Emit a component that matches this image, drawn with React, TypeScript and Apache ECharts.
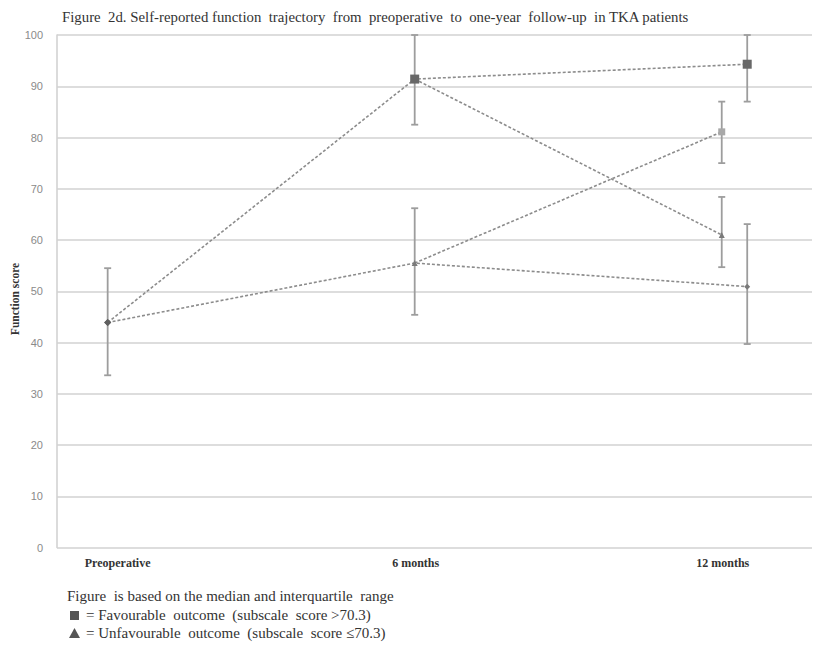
import React, { useEffect, useRef } from "react";
import * as echarts from "echarts";

// Time points on the horizontal axis
const timepoints = ["Preoperative", "6 months", "12 months"];
const timepointX = [0, 1, 2];
// Groups that keep their outcome class are drawn slightly right of the 12-month tick
const stableGroupShift = 0.083;

// Median and interquartile range of the function score
const favourableMedian = [43.9, 91.4, 94.3];
const favourableQ1 = [33.6, 82.5, 87.0];
const favourableQ3 = [54.5, 100, 100];

const unfavourableMedian = [43.9, 55.5, 50.9];
const unfavourableQ1 = [33.6, 45.4, 39.7];
const unfavourableQ3 = [54.5, 66.2, 63.1];

// 12-month values for patients whose outcome class changed after 6 months
const favToUnfavMedian = [61.0];
const favToUnfavQ1 = [54.7];
const favToUnfavQ3 = [68.4];
const unfavToFavMedian = [81.1];
const unfavToFavQ1 = [75.0];
const unfavToFavQ3 = [87.0];

const yTicks = { min: 0, max: 100, interval: 10 };
const yAxisTitle = "Function score";

const titleText =
  "Figure  2d. Self-reported function  trajectory  from  preoperative  to  one-year  follow-up  in TKA patients";
const noteLines = [
  "Figure  is based on the median and interquartile  range",
  "= Favourable  outcome  (subscale  score >70.3)",
  "= Unfavourable  outcome  (subscale  score \u226470.3)",
];

const SERIF = "'Liberation Serif', 'DejaVu Serif', serif";
const LINE_GREY = "#8c8c8c";
const BAR_GREY = "#9d9d9d";
const MARK_DARK = "#5f5f5f";

export default function App() {
  const ref = useRef<HTMLDivElement>(null);

  useEffect(() => {
    document.body.style.margin = "0";
    if (!ref.current) return;
    const chart = echarts.init(ref.current, null, { renderer: "svg" });

    const x12Shifted = timepointX[2] + stableGroupShift;

    const favPts = [
      [timepointX[0], favourableMedian[0]],
      [timepointX[1], favourableMedian[1]],
      [x12Shifted, favourableMedian[2]],
    ];
    const unfavPts = [
      [timepointX[0], unfavourableMedian[0]],
      [timepointX[1], unfavourableMedian[1]],
      [x12Shifted, unfavourableMedian[2]],
    ];
    const favToUnfavPts = [
      [timepointX[1], favourableMedian[1]],
      [timepointX[2], favToUnfavMedian[0]],
    ];
    const unfavToFavPts = [
      [timepointX[1], unfavourableMedian[1]],
      [timepointX[2], unfavToFavMedian[0]],
    ];

    // [x, q1, q3] for each whisker
    const errorBars = [
      [timepointX[0], favourableQ1[0], favourableQ3[0]],
      [timepointX[1], favourableQ1[1], favourableQ3[1]],
      [timepointX[1], unfavourableQ1[1], unfavourableQ3[1]],
      [x12Shifted, favourableQ1[2], favourableQ3[2]],
      [x12Shifted, unfavourableQ1[2], unfavourableQ3[2]],
      [timepointX[2], favToUnfavQ1[0], favToUnfavQ3[0]],
      [timepointX[2], unfavToFavQ1[0], unfavToFavQ3[0]],
    ];

    const dashed = {
      color: LINE_GREY,
      width: 1.6,
      type: [3, 2] as number[],
    };

    const lineSeries = (name: string, data: any[], z: number) => ({
      name,
      type: "line",
      data,
      z,
      lineStyle: dashed,
      showSymbol: true,
      symbolSize: 6,
      itemStyle: { color: MARK_DARK },
    });

    const sq = (pt: number[], size: number, color: string) => ({
      value: pt,
      symbol: "rect",
      symbolSize: size,
      itemStyle: { color },
    });
    const small = (pt: number[], symbol: string, size: number, color: string) => ({
      value: pt,
      symbol,
      symbolSize: size,
      itemStyle: { color },
    });

    const xLabelStyle = {
      color: "#333",
      fontFamily: SERIF,
      fontWeight: "bold",
      fontSize: 12,
    };

    chart.setOption({
      animation: false,
      backgroundColor: "#ffffff",
      grid: {
        left: 57,
        right: 5,
        top: 35,
        bottom: 97.5,
        containLabel: false,
        outerBoundsMode: "none",
      },
      xAxis: {
        type: "value",
        min: -0.165,
        max: 2.294,
        axisLine: { show: false },
        axisTick: { show: false },
        splitLine: { show: false },
        axisLabel: {
          customValues: timepointX,
          margin: 9,
          ...xLabelStyle,
          formatter: (v: number) => {
            const i = timepointX.indexOf(v);
            if (i < 0) return "";
            return i === 0 ? `{pre|${timepoints[i]}}` : `{tp|${timepoints[i]}}`;
          },
          rich: {
            pre: { padding: [0, 0, 0, 20], ...xLabelStyle },
            tp: { padding: [0, 0, 0, 2], ...xLabelStyle },
          },
        },
      },
      yAxis: {
        type: "value",
        min: yTicks.min,
        max: yTicks.max,
        interval: yTicks.interval,
        axisLine: {
          show: true,
          onZero: false,
          lineStyle: { color: "#d2d2d2", width: 1.6 },
        },
        axisTick: { show: false },
        splitLine: { lineStyle: { color: "#d2d2d2", width: 1.6 } },
        axisLabel: {
          margin: 14,
          color: "#8a8a8a",
          fontFamily: "'Liberation Sans', Arial, sans-serif",
          fontSize: 11,
        },
      },
      series: [
        {
          type: "custom",
          name: "IQR",
          z: 3,
          data: errorBars,
          renderItem: (_params: any, api: any) => {
            const x = api.value(0);
            const top = api.coord([x, api.value(2)]);
            const bot = api.coord([x, api.value(1)]);
            const cap = 3.5;
            const st = { stroke: BAR_GREY, lineWidth: 1.8 };
            return {
              type: "group",
              children: [
                { type: "line", shape: { x1: top[0], y1: top[1], x2: bot[0], y2: bot[1] }, style: st },
                { type: "line", shape: { x1: top[0] - cap, y1: top[1], x2: top[0] + cap, y2: top[1] }, style: st },
                { type: "line", shape: { x1: bot[0] - cap, y1: bot[1], x2: bot[0] + cap, y2: bot[1] }, style: st },
              ],
            };
          },
        },
        lineSeries(
          "Favourable",
          [
            small(favPts[0], "diamond", 7, MARK_DARK),
            sq(favPts[1], 9, "#686868"),
            sq(favPts[2], 9, "#686868"),
          ],
          5
        ),
        lineSeries(
          "Unfavourable",
          [
            small(unfavPts[0], "diamond", 7, MARK_DARK),
            small(unfavPts[1], "triangle", 6, "#7a7a7a"),
            small(unfavPts[2], "diamond", 6, "#7a7a7a"),
          ],
          5
        ),
        lineSeries(
          "Favourable to unfavourable",
          [
            { value: favToUnfavPts[0], symbol: "none" },
            small(favToUnfavPts[1], "triangle", 6, "#7a7a7a"),
          ],
          4
        ),
        lineSeries(
          "Unfavourable to favourable",
          [
            { value: unfavToFavPts[0], symbol: "none" },
            sq(unfavToFavPts[1], 7, "#a8a8a8"),
          ],
          4
        ),
      ],
      graphic: [
        {
          type: "text",
          x: 15,
          y: 299,
          rotation: Math.PI / 2,
          style: {
            text: yAxisTitle,
            font: `bold 11.5px ${SERIF}`,
            fill: "#333",
            align: "center",
            verticalAlign: "middle",
          },
        },
        {
          type: "text",
          left: 62,
          top: 9,
          style: { text: titleText, font: `14.8px ${SERIF}`, fill: "#333" },
        },
        {
          type: "text",
          left: 67,
          top: 588,
          style: { text: noteLines[0], font: `15px ${SERIF}`, fill: "#333" },
        },
        {
          type: "rect",
          shape: { x: 70, y: 611, width: 9, height: 9 },
          style: { fill: "#555" },
        },
        {
          type: "text",
          left: 86,
          top: 607,
          style: { text: noteLines[1], font: `15px ${SERIF}`, fill: "#333" },
        },
        {
          type: "polygon",
          shape: { points: [[74.5, 628], [80, 638], [69, 638]] },
          style: { fill: "#555" },
        },
        {
          type: "text",
          left: 86,
          top: 625,
          style: { text: noteLines[2], font: `15px ${SERIF}`, fill: "#333" },
        },
      ],
    });

    return () => chart.dispose();
  }, []);

  return <div ref={ref} style={{ width: 817, height: 645 }} />;
}
